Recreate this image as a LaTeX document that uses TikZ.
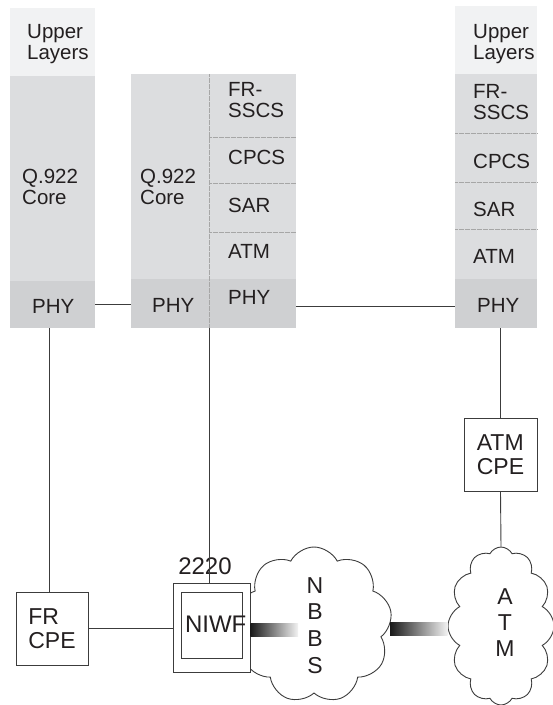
\documentclass[tikz,border=0pt]{standalone}
\usepackage{fontspec}
\setmainfont{Liberation Sans}
\usetikzlibrary{shapes.symbols}
\definecolor{upc}{HTML}{F1F2F3}
\definecolor{midc}{HTML}{DCDDDF}
\definecolor{phyc}{HTML}{CFD0D2}
\definecolor{inkc}{HTML}{231F20}
\definecolor{linec}{HTML}{3C3C3C}
\begin{document}
\begin{tikzpicture}[x=1pt,y=-1pt,
 layer/.style={rectangle, anchor=north west, inner sep=0pt, outer sep=0pt, draw=none},
 txt/.style={inner sep=0pt, align=left, text=inkc, font=\fontsize{20.5}{21}\selectfont},
 btxt/.style={inner sep=0pt, align=left, text=inkc, font=\fontsize{23}{24}\selectfont},
 conn/.style={draw=linec, line width=0.9pt},
 dots/.style={draw=gray!70, line width=0.6pt, dash pattern=on 0.6pt off 0.6pt},
 boxx/.style={rectangle, draw=linec, line width=0.9pt, fill=white, inner sep=0pt},
 cloudy/.style={cloud, draw=linec, line width=0.9pt, fill=white, cloud ignores aspect, inner sep=0pt, cloud puff arc=125},
 bar/.style={left color=black!90, right color=black!5}]
\useasboundingbox (0,0) rectangle (553,705);
% left stack
\node[layer, fill=upc, minimum width=85pt, minimum height=68pt] (LU) at (10,8) {};
\node[layer, fill=midc, minimum width=85pt, minimum height=205pt] (LQ) at (10,76) {};
\node[layer, fill=phyc, minimum width=85pt, minimum height=47pt] (LP) at (10,281) {};
% middle stack
\node[layer, fill=midc, minimum width=78pt, minimum height=205pt] (MQ) at (131,74) {};
\node[layer, fill=midc, minimum width=87pt, minimum height=63pt] (MF) at (209,74) {};
\node[layer, fill=midc, minimum width=87pt, minimum height=46pt] (MC) at (209,137) {};
\node[layer, fill=midc, minimum width=87pt, minimum height=49pt] (MS) at (209,183) {};
\node[layer, fill=midc, minimum width=87pt, minimum height=47pt] (MA) at (209,232) {};
\node[layer, fill=phyc, minimum width=165pt, minimum height=49pt] (MP) at (131,279) {};
% right stack
\node[layer, fill=upc, minimum width=82pt, minimum height=68pt] (RU) at (455,6) {};
\node[layer, fill=midc, minimum width=82pt, minimum height=59pt] (RF) at (455,74) {};
\node[layer, fill=midc, minimum width=82pt, minimum height=49pt] (RC) at (455,133) {};
\node[layer, fill=midc, minimum width=82pt, minimum height=47pt] (RS) at (455,182) {};
\node[layer, fill=midc, minimum width=82pt, minimum height=50pt] (RA) at (455,229) {};
\node[layer, fill=phyc, minimum width=82pt, minimum height=49pt] (RP) at (455,279) {};
% dotted separators
\draw[dots] (MQ.north east) -- (MP.south -| MQ.east);
\draw[dots] (MF.south west) -- (MF.south east);
\draw[dots] (MC.south west) -- (MC.south east);
\draw[dots] (MS.south west) -- (MS.south east);
\draw[dots] (RF.south west) -- (RF.south east);
\draw[dots] (RC.south west) -- (RC.south east);
\draw[dots] (RS.south west) -- (RS.south east);
% stack texts (base = last line)
\node[txt, anchor=base west] (tLU) at (27,59.5) {Upper\\Layers};
\node[txt, anchor=base west] (tLQ) at (22,204.5) {Q.922\\Core};
\node[txt, anchor=base west] (tLP) at (32,313) {PHY};
\node[txt, anchor=base west] (tMQ) at (140,204) {Q.922\\Core};
\node[txt, anchor=base west] (tMP) at (152,312) {PHY};
\node[txt, anchor=base west] (tMF) at (228,117.5) {FR-\\SSCS};
\node[txt, anchor=base west] (tMC) at (228,164) {CPCS};
\node[txt, anchor=base west] (tMS) at (228,212) {SAR};
\node[txt, anchor=base west] (tMA) at (228,258) {ATM};
\node[txt, anchor=base west] (tMP2) at (228,304) {PHY};
\node[txt, anchor=base west] (tRU) at (473,59.5) {Upper\\Layers};
\node[txt, anchor=base west] (tRF) at (473,119.5) {FR-\\SSCS};
\node[txt, anchor=base west] (tRC) at (473,168) {CPCS};
\node[txt, anchor=base west] (tRS) at (473,216) {SAR};
\node[txt, anchor=base west] (tRA) at (473,263) {ATM};
\node[txt, anchor=base west] (tRP) at (477,312) {PHY};
% clouds
\node[cloudy, cloud puffs=9, minimum width=156pt, minimum height=156pt] (NBBS) at (314,625) {};
\node[cloudy, cloud puffs=12, minimum width=106pt, minimum height=158pt] (ATMC) at (501,626) {};
\node[inner sep=0pt, align=center, text=inkc, font=\fontsize{23}{26.7}\selectfont] (tNBBS) at (315,625.5) {N\\B\\B\\S};
\node[inner sep=0pt, align=center, text=inkc, font=\fontsize{23}{26.3}\selectfont] (tATMC) at (505,622.5) {A\\T\\M};
% boxes
\node[boxx, btxt, minimum width=72pt, minimum height=73pt] (FR) at (52,628.5) {FR\\CPE};
\node[boxx, btxt, minimum width=73pt, minimum height=73pt] (ATMCPE) at (500.5,454.5) {ATM\\CPE};
\node[boxx, minimum width=77pt, minimum height=89pt] (NIWFo) at (211.5,627.5) {};
\node[boxx, minimum width=61pt, minimum height=66pt] (NIWFi) at (211.5,625) {};
\node[inner sep=0pt, text=inkc, font=\fontsize{24}{26}\selectfont] (tNIWF) at (215.7,624.7) {NIWF};
\node[inner sep=0pt, anchor=base, text=inkc, font=\fontsize{24}{26}\selectfont] (t2220) at (205,574.3) {2220};
% gradient bars
\coordinate (b1s) at (NIWFo.east |- 0,623);
\coordinate (b1e) at (298,636);
\shade[bar] (b1s) rectangle (b1e);
\coordinate (b2s) at (NBBS.east |- 0,622);
\coordinate (b2e) at (ATMC.west |- 0,635);
\shade[bar] (b2s) rectangle (b2e);
% connectors
\coordinate (FRtop) at ([xshift=-3pt]FR.north);
\coordinate (MPr) at ([yshift=-2.5pt]MP.east);
\draw[conn] (LP.east) -- (LP.east -| MP.west);
\draw[conn] (MPr) -- (MPr -| RP.west);
\draw[conn] (LP.south -| FRtop) -- (FRtop);
\draw[conn] (MP.south -| MQ.east) -- (NIWFo.north -| MQ.east);
\draw[conn] (RP.south -| ATMCPE.north) -- (ATMCPE.north);
\draw[conn] (ATMCPE.south) -- (ATMC.north);
\draw[conn] (FR.east) -- (FR.east -| NIWFo.west);
\end{tikzpicture}
\end{document}
